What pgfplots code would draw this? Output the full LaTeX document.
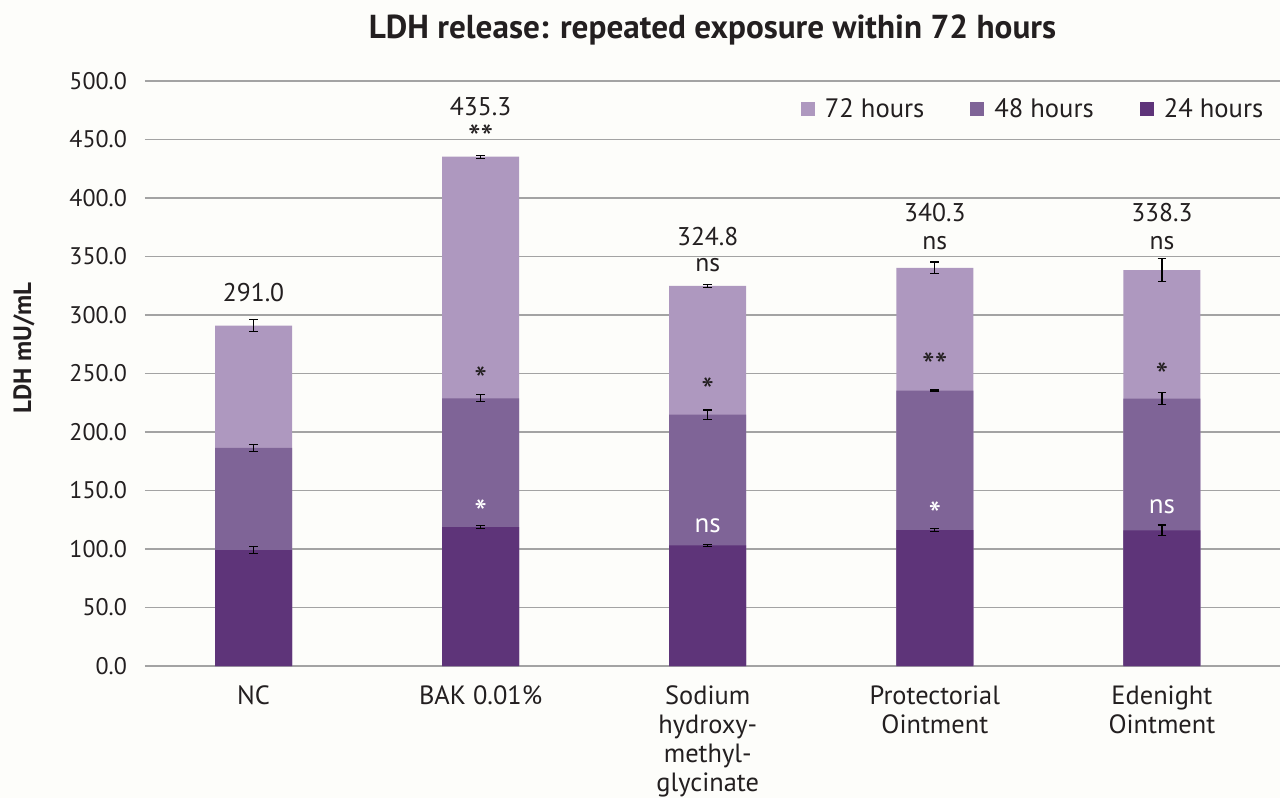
\documentclass[border=0pt]{standalone}
\usepackage{fontspec}
\setmainfont{PT Sans}
\usepackage{pgfplots}
\usepackage{pgfplotstable}
\pgfplotsset{compat=1.18}
\definecolor{cA}{HTML}{5E3479}
\definecolor{cB}{HTML}{7F6497}
\definecolor{cC}{HTML}{AE98BF}
\definecolor{bg}{HTML}{FDFDFA}
\definecolor{txt}{HTML}{231F20}
\definecolor{gridc}{HTML}{A3A3A3}
% cumulative tops of the stacked segments and their error half-widths
\pgfplotstableread{
x t24 e24 t48 e48 t72 e72
0 99.0 3.0 186.5 3.0 291.0 5.0
1 118.8 1.2 228.8 3.0 435.3 1.2
2 103.2 0.8 214.8 4.0 324.8 1.5
3 116.2 1.2 235.3 0.6 340.3 5.0
4 116.0 4.5 228.5 5.0 338.3 10.0
}\data
\begin{document}
\begin{tikzpicture}
\path[use as bounding box, fill=bg] (-72.5pt,-66pt) rectangle (567.5pt,333pt);
\begin{axis}[
  at={(0,0)}, anchor=south west,
  scale only axis, width=567.5pt, height=292.5pt,
  ybar, bar width=38.5pt, bar shift=0pt,
  xmin=-0.478, xmax=4.52, ymin=0, ymax=500,
  xtick={0,1,2,3,4},
  xticklabels={NC, BAK 0.01\%, Sodium\\hydroxy-\\methyl-\\glycinate, Protectorial\\Ointment, Edenight\\Ointment},
  xticklabel style={align=center, font=\fontsize{13.2}{14.5}\selectfont, text=txt, yshift=-6.5pt},
  ytick={0,50,...,500},
  yticklabel style={font=\fontsize{12}{14}\selectfont, text=txt, xshift=-5.5pt,
    /pgf/number format/.cd, fixed, fixed zerofill, precision=1, assume math mode=true},
  ymajorgrids, grid style={line width=0.9pt, color=gridc},
  axis line style={draw=none}, tick style={draw=none}, major tick length=0pt,
  clip=false,
  title={LDH release: repeated exposure within 72 hours},
  title style={font=\fontsize{16.6}{18}\selectfont\bfseries, text=txt, at={(axis description cs:0.5,1.066)}, anchor=center},
  ylabel={LDH mU/mL},
  every axis y label/.style={at={(axis description cs:-0.1066,0.544)}, rotate=90, anchor=center,
    font=\fontsize{12.5}{14}\selectfont\bfseries, text=txt},
  legend columns=3,
  legend style={at={(axis description cs:0.5775,0.952)}, anchor=west, draw=none, fill=none,
    inner sep=0pt, font=\fontsize{13.3}{15}\selectfont, text=txt,
    nodes={inner sep=0pt},
    /tikz/every odd column/.append style={column sep=5pt},
    /tikz/every even column/.append style={column sep=23pt}},
  legend image code/.code={\fill[#1] (0pt,-3.5pt) rectangle (7pt,3.5pt);},
  error bars/y dir=both, error bars/y explicit,
  error bars/error bar style={draw=black, line width=0.6pt},
  error bars/error mark options={rotate=90, draw=black, line width=0.6pt, mark size=2.2pt},
]
\addplot[fill=cC, draw=none] table[x=x, y=t72, y error=e72] {\data};
\addlegendentry{72 hours}
\addplot[fill=cB, draw=none] table[x=x, y=t48, y error=e48] {\data};
\addlegendentry{48 hours}
\addplot[fill=cA, draw=none] table[x=x, y=t24, y error=e24] {\data};
\addlegendentry{24 hours}

% totals above bars
\begin{scope}[every node/.style={font=\fontsize{12.8}{14}\selectfont, text=txt, anchor=center}]
\node at (axis cs:0,319.5) {291.0};
\node at (axis cs:1,478.0) {435.3};
\node at (axis cs:2,366.7) {324.8};
\node at (axis cs:2,342.7) {ns};
\node at (axis cs:3,387.2) {340.3};
\node at (axis cs:3,361.5) {ns};
\node at (axis cs:4,387.2) {338.3};
\node at (axis cs:4,361.5) {ns};
\end{scope}
\begin{scope}[every node/.style={font=\fontsize{18}{20}\selectfont, text=txt, anchor=center}]
\node at (axis cs:1,452.0) {**};
\node at (axis cs:1,245.0) {*};
\node at (axis cs:2,235.0) {*};
\node at (axis cs:3,257.0) {**};
\node at (axis cs:4,248.5) {*};
\node[text=white] at (axis cs:1,131.5) {*};
\node[text=white] at (axis cs:3,129.7) {*};
\end{scope}
\begin{scope}[every node/.style={font=\fontsize{13.5}{14}\selectfont, text=white, anchor=center}]
\node at (axis cs:2,119.7) {ns};
\node at (axis cs:4,135.9) {ns};
\end{scope}
\end{axis}
\end{tikzpicture}
\end{document}
